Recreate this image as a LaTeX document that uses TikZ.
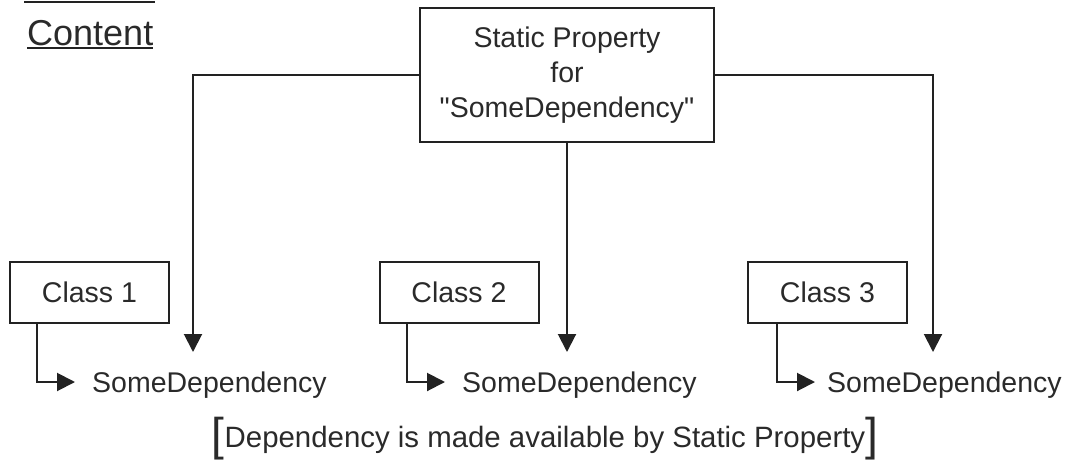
\documentclass[tikz,border=0pt]{standalone}
\usepackage{fontspec}
\setmainfont{Liberation Sans}[Ligatures=TeXOff]
\usetikzlibrary{arrows.meta,calc}
\definecolor{ink}{HTML}{222222}
\definecolor{txt}{HTML}{2A2A2A}
\begin{document}
\begin{tikzpicture}[x=1pt,y=-1pt,
  every node/.style={text=txt,font=\fontsize{28.5}{35}\selectfont},
  box/.style={draw=ink,line width=2pt,align=center,inner sep=0pt},
  conn/.style={draw=ink,line width=2pt},
  arr/.style={conn,-{Triangle[length=18pt,width=18pt]}},
  dep/.style={anchor=base west,inner ysep=0pt,inner xsep=0pt}]
\useasboundingbox (0,0) rectangle (1065,469);
% cropped underline at the very top
\draw[conn,line width=2.5pt] (24,2) -- (155,2);
\node[anchor=base west,inner sep=0pt,font=\fontsize{36}{40}\selectfont] (content) at (27,45) {Content};
\draw[conn] ($(content.base west)+(0,3)$) -- ($(content.base east)+(0,3)$);
% top box
\node[box,minimum width=294pt,minimum height=134pt] (sp) at (567,75) {Static Property\\for\\"SomeDependency"};
% class boxes
\node[box,minimum width=159pt,minimum height=61pt] (c1) at (89.5,292.5) {Class 1};
\node[box,minimum width=159pt,minimum height=61pt] (c2) at (459,292.5) {Class 2};
\node[box,minimum width=159pt,minimum height=61pt] (c3) at (827.5,292.5) {Class 3};
% dependency texts
\node[dep] (d1) at (92,392) {SomeDependency};
\node[dep] (d2) at (462,392) {SomeDependency};
\node[dep] (d3) at (827,392) {SomeDependency};
\coordinate (t1) at (193,352);
\coordinate (t2) at (567,352);
\coordinate (t3) at (933,352);
\coordinate (e1) at (75,382);
\coordinate (e2) at (445,382);
\coordinate (e3) at (815,382);
% arrows from static property
\draw[arr] (sp.west) -| (t1);
\draw[arr] (sp.south) -- (t2);
\draw[arr] (sp.east) -| (t3);
% elbows from classes
\draw[arr] (c1.south west -| 37,0) |- (e1);
\draw[arr] (c2.south west -| 407,0) |- (e2);
\draw[arr] (c3.south west -| 777,0) |- (e3);
% caption
\node[anchor=base,inner sep=0pt,font=\fontsize{29.4}{35}\selectfont] (cap) at (545,447) {{\fontsize{46}{46}\selectfont\raisebox{-3pt}{[}}Dependency is made available by Static Property{\fontsize{46}{46}\selectfont\raisebox{-3pt}{]}}};
\end{tikzpicture}
\end{document}
